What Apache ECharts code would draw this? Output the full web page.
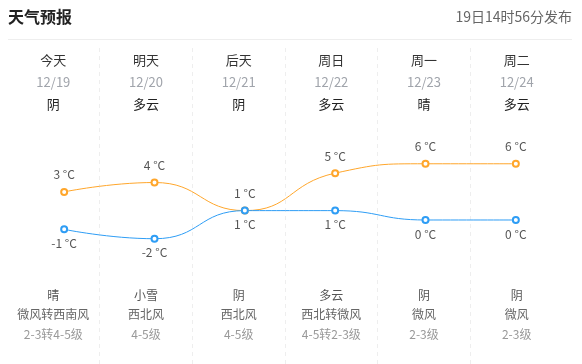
<!DOCTYPE html>
<html><head><meta charset="utf-8">
<script src="https://cdn.jsdelivr.net/npm/echarts@6/dist/echarts.min.js"></script>
<style>html,body{margin:0;padding:0;background:#fff}#c{width:582px;height:364px}</style>
</head><body><div id="c"></div>
<script>
const days = ['今天','明天','后天','周日','周一','周二'];
const dates = ['12/19','12/20','12/21','12/22','12/23','12/24'];
const dayWeather = ['阴','多云','阴','多云','晴','多云'];
const nightWeather = ['晴','小雪','阴','多云','阴','阴'];
const windDir = ['微风转西南风','西北风','西北风','西北转微风','微风','微风'];
const windLevel = ['2-3转4-5级','4-5级','4-5级','4-5转2-3级','2-3级','2-3级'];
const highs = [3,4,1,5,6,6];
const lows = [-1,-2,1,1,0,0];
const titleText = '天气预报';
const publishText = '19日14时56分发布';

const FONT = '"Noto Sans CJK SC", "Noto Sans", sans-serif';
const chart = echarts.init(document.getElementById('c'));
const idx = days.map((_, i) => i);
chart.setOption({
  animation: false,
  textStyle: { fontFamily: FONT },
  title: [
    { text: titleText, left: 8, top: 9, padding: 0, textStyle: { fontSize: 16, fontWeight: 'bold', color: '#222', fontFamily: FONT } },
    { text: publishText, right: 10, top: 10, padding: 0, textStyle: { fontSize: 14, fontWeight: 'normal', color: '#666', fontFamily: FONT } }
  ],
  graphic: [
    { type: 'line', shape: { x1: 8, y1: 39.5, x2: 572, y2: 39.5 }, style: { stroke: '#eeeeee', lineWidth: 1 } }
  ],
  grid: [
    { left: 7, right: 19, top: 48, bottom: 0 },
    { left: 19, right: 21, top: 154.4, bottom: 115.9 }
  ],
  xAxis: [
    {
      gridIndex: 0, type: 'category', position: 'top', data: idx, boundaryGap: true,
      axisLine: { show: false }, axisTick: { show: false },
      splitLine: { show: true, showMinLine: false, showMaxLine: false, interval: 0, lineStyle: { color: '#eeeeee', type: [4, 4], width: 1 } },
      axisLabel: {
        inside: true, margin: 1, verticalAlign: 'top', interval: 0,
        formatter: (v, i) => '{a|' + days[i] + '}\n{b|' + dates[i] + '}\n{c|' + dayWeather[i] + '}',
        rich: {
          a: { fontSize: 13, color: '#333', lineHeight: 22, fontFamily: FONT },
          b: { fontSize: 13, color: '#a0a4ab', lineHeight: 22, fontFamily: FONT },
          c: { fontSize: 13, color: '#222', lineHeight: 22, fontFamily: FONT }
        }
      }
    },
    {
      gridIndex: 0, type: 'category', position: 'bottom', data: idx, boundaryGap: true,
      axisLine: { show: false }, axisTick: { show: false }, splitLine: { show: false },
      axisLabel: {
        inside: true, margin: 20, verticalAlign: 'bottom', interval: 0,
        formatter: (v, i) => '{a|' + nightWeather[i] + '}\n{b|' + windDir[i] + '}\n{c|' + windLevel[i] + '}',
        rich: {
          a: { fontSize: 12, color: '#555', lineHeight: 19.5, fontFamily: FONT },
          b: { fontSize: 12, color: '#666', lineHeight: 19.5, fontFamily: FONT },
          c: { fontSize: 12, color: '#999', lineHeight: 19.5, fontFamily: FONT }
        }
      }
    },
    {
      gridIndex: 1, type: 'category', data: days, boundaryGap: true, show: false
    }
  ],
  yAxis: [
    { gridIndex: 0, show: false, min: 0, max: 1 },
    { gridIndex: 1, show: false, type: 'value', min: -3, max: 7 }
  ],
  series: [
    {
      type: 'line', xAxisIndex: 2, yAxisIndex: 1, data: highs, smooth: true,
      symbol: 'emptyCircle', symbolSize: 6,
      itemStyle: { color: '#ffa62b', borderWidth: 2 }, lineStyle: { color: '#ffa62b', width: 1 },
      label: { show: true, position: 'top', distance: 7, formatter: p => p.value + ' °C', fontSize: 12, color: '#555', fontFamily: FONT }
    },
    {
      type: 'line', xAxisIndex: 2, yAxisIndex: 1, data: lows, smooth: true,
      symbol: 'emptyCircle', symbolSize: 6,
      itemStyle: { color: '#2e9df5', borderWidth: 2 }, lineStyle: { color: '#2e9df5', width: 1 },
      label: { show: true, position: 'bottom', distance: 4, formatter: p => p.value + ' °C', fontSize: 12, color: '#555', fontFamily: FONT }
    }
  ]
});
</script></body></html>
